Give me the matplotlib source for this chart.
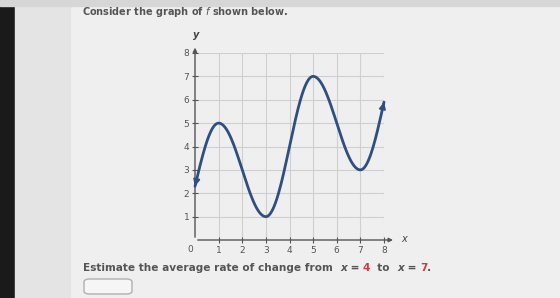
import numpy as np
import matplotlib
matplotlib.use("Agg")
import matplotlib.pyplot as plt
from matplotlib.patches import FancyBboxPatch, Rectangle

# key points (ends and turning points)
key_x = [0, 1, 3, 5, 7, 8]
key_y = [2.3, 5, 1, 7, 3, 5.9]
ticks = [1, 2, 3, 4, 5, 6, 7, 8]


def curve(xs, ys, n=60):
    # smooth wave through the turning points (flat at extrema)
    px, py = [], []
    for i in range(len(xs) - 1):
        x0, x1, y0, y1 = xs[i], xs[i + 1], ys[i], ys[i + 1]
        t = np.linspace(0, 1, n)
        if i == 0:
            y = y0 + (y1 - y0) * np.sin(np.pi / 2 * t)
        elif i == len(xs) - 2:
            y = y0 + (y1 - y0) * (1 - np.cos(np.pi / 2 * t))
        else:
            y = (y0 + y1) / 2 + (y0 - y1) / 2 * np.cos(np.pi * t)
        px.extend(x0 + (x1 - x0) * t)
        py.extend(y)
    return np.array(px), np.array(py)


fig = plt.figure(figsize=(5.6, 2.98), dpi=100)
fig.patch.set_facecolor("#efefef")
# dark edge of the photographed screen
fig.add_artist(Rectangle((0, 0), 15 / 560, 1, transform=fig.transFigure,
                         color="#1a1a1a", zorder=0))
fig.add_artist(Rectangle((15 / 560, 0), 55 / 560, 1, transform=fig.transFigure,
                         color="#e4e4e4", zorder=0))
fig.add_artist(Rectangle((0, 292 / 298), 1, 6 / 298, transform=fig.transFigure,
                         color="#d6d6d6", zorder=0))

fig.text(82 / 560, 1 - 12 / 298, "Consider the graph of $\\it{f}$ shown below.",
         fontsize=7, fontweight="bold", color="#555555", va="center")

ax = fig.add_axes([195 / 560, 58 / 298, 189 / 560, 187 / 298])
ax.set_facecolor("none")
ax.set_xlim(0, 8)
ax.set_ylim(0, 8)
for v in ticks:
    ax.plot([v, v], [0, 8], color="#cfcfcf", lw=0.8, zorder=1)
    ax.plot([0, 8], [v, v], color="#cfcfcf", lw=0.8, zorder=1)
for s in ax.spines.values():
    s.set_visible(False)

# axes with arrows
ax.annotate("", xy=(8.5, 0), xytext=(0, 0),
            arrowprops=dict(arrowstyle="-|>", color="#555555", lw=1,
                            mutation_scale=6), annotation_clip=False)
ax.annotate("", xy=(0, 8.35), xytext=(0, 0),
            arrowprops=dict(arrowstyle="-|>", color="#555555", lw=1,
                            mutation_scale=6), annotation_clip=False)
ax.text(8.85, 0.05, "x", style="italic", fontsize=7, color="#444444",
        va="center", ha="center")
ax.text(0.05, 8.75, "y", style="italic", fontsize=7, color="#444444",
        va="center", ha="center", fontweight="bold")

ax.set_xticks(ticks)
ax.set_yticks(ticks)
ax.tick_params(direction="inout", length=4, width=0.8, color="#555555",
               labelsize=6.5, labelcolor="#555555", pad=2)
ax.text(-0.2, -0.4, "0", fontsize=6.5, color="#555555", ha="center", va="center")

cx, cy = curve(key_x, key_y)
ax.plot(cx, cy, color="#2f4f80", lw=2, zorder=3, solid_capstyle="round",
        clip_on=False)
ax.annotate("", xy=(cx[0], cy[0]), xytext=(cx[3], cy[3]),
            arrowprops=dict(arrowstyle="-|>", color="#2f4f80", lw=1.5,
                            mutation_scale=9), annotation_clip=False)
ax.annotate("", xy=(cx[-1], cy[-1]), xytext=(cx[-4], cy[-4]),
            arrowprops=dict(arrowstyle="-|>", color="#2f4f80", lw=1.5,
                            mutation_scale=9), annotation_clip=False)

# question line with red values
y_q = 1 - 268 / 298
parts = [("Estimate the average rate of change from  ", "#555555", "normal"),
         ("x", "#555555", "italic"), (" = ", "#555555", "normal"),
         ("4", "#d03a3a", "normal"), ("  to  ", "#555555", "normal"),
         ("x", "#555555", "italic"), (" = ", "#555555", "normal"),
         ("7", "#d03a3a", "normal"), (".", "#555555", "normal")]
fig.canvas.draw()
rend = fig.canvas.get_renderer()
xp = 83 / 560
for txt, col, sty in parts:
    t = fig.text(xp, y_q, txt, fontsize=7.6, fontweight="bold", color=col,
                 style=sty, va="center")
    bb = t.get_window_extent(renderer=rend)
    xp += bb.width / fig.bbox.width

box = FancyBboxPatch((84 / 560, 4 / 298), 48 / 560, 15 / 298,
                     boxstyle="round,pad=0,rounding_size=0.01",
                     transform=fig.transFigure, facecolor="#f6f6f6",
                     edgecolor="#b0b0b0", lw=1)
fig.add_artist(box)

fig.savefig("out.png", dpi=100, facecolor=fig.get_facecolor())
